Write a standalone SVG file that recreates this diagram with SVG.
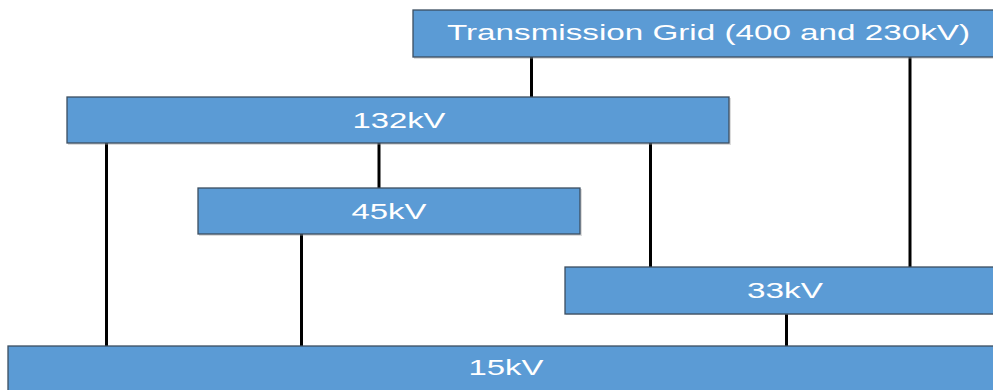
<svg xmlns="http://www.w3.org/2000/svg" width="993" height="390" viewBox="0 0 993 390">
<style>
.box{fill:#5B9BD5;stroke:#3C4E60;stroke-width:1.3}
.sh{fill:#9a9a9a;opacity:0.35}
.lbl{font-family:"Liberation Sans",Arial,sans-serif;font-size:22px;fill:#FFFFFF;text-anchor:middle}
.wire{stroke:#000;stroke-width:3;fill:none}
</style>
<rect width="993" height="390" fill="#FFFFFF"/>
<g id="connectors">
<line class="wire" x1="531.5" y1="57" x2="531.5" y2="97"/>
<line class="wire" x1="910" y1="57" x2="910" y2="268"/>
<line class="wire" x1="106.5" y1="143" x2="106.5" y2="346"/>
<line class="wire" x1="379" y1="143" x2="379" y2="188"/>
<line class="wire" x1="650.5" y1="143" x2="650.5" y2="268"/>
<line class="wire" x1="301.5" y1="234" x2="301.5" y2="346"/>
<line class="wire" x1="786.5" y1="314" x2="786.5" y2="346"/>
</g>
<g id="transmission">
<rect class="sh" x="414" y="11" width="592" height="48"/>
<rect class="box" x="413" y="10" width="591" height="47"/>
<text class="lbl" x="708.5" y="39.5" textLength="523" lengthAdjust="spacingAndGlyphs">Transmission Grid (400 and 230kV)</text>
</g>
<g id="kv132">
<rect class="sh" x="68" y="98" width="663" height="47"/>
<rect class="box" x="67" y="97" width="662" height="46"/>
<text class="lbl" x="399" y="127.5" textLength="93" lengthAdjust="spacingAndGlyphs">132kV</text>
</g>
<g id="kv45">
<rect class="sh" x="199" y="189" width="383" height="47"/>
<rect class="box" x="198" y="188" width="382" height="46"/>
<text class="lbl" x="389" y="218.5" textLength="75" lengthAdjust="spacingAndGlyphs">45kV</text>
</g>
<g id="kv33">
<rect class="sh" x="566" y="268" width="440" height="47"/>
<rect class="box" x="565" y="267" width="439" height="47"/>
<text class="lbl" x="785" y="297.5" textLength="76" lengthAdjust="spacingAndGlyphs">33kV</text>
</g>
<g id="kv15">
<rect class="sh" x="9" y="347" width="997" height="47"/>
<rect class="box" x="8" y="346" width="996" height="47"/>
<text class="lbl" x="506" y="374.5" textLength="75" lengthAdjust="spacingAndGlyphs">15kV</text>
</g>
</svg>
